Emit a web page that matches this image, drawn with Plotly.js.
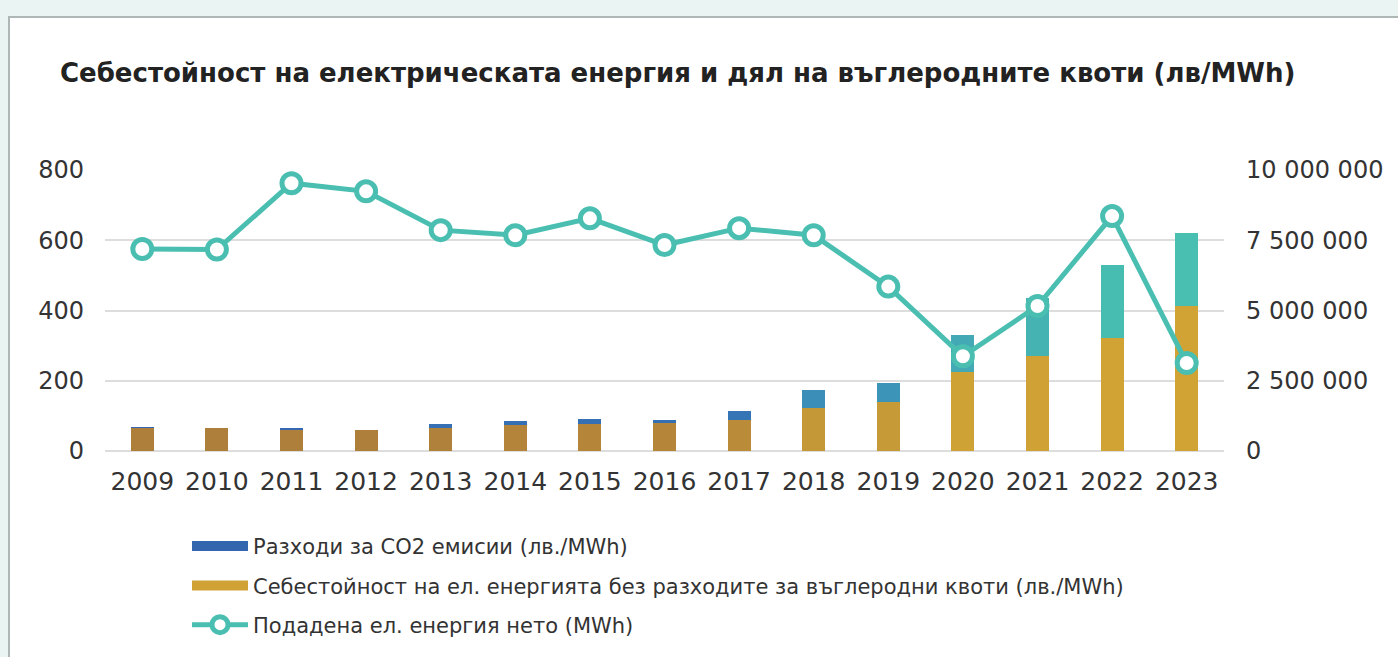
<!DOCTYPE html>
<html>
<head>
<meta charset="utf-8">
<script src="https://cdn.plot.ly/plotly-3.0.1.min.js"></script>
<style>
  html, body { margin: 0; padding: 0; background: #EAF4F3; width: 1398px; height: 657px; overflow: hidden; }
  #card { position: absolute; left: 8px; top: 16px; width: 1400px; height: 660px; background: #FFFFFF; border-left: 2px solid #AEB6B6; border-top: 2px solid #AEB6B6; }
  #chart { position: absolute; left: 0; top: 0; width: 1398px; height: 657px; }
</style>
</head>
<body>
<div id="card"></div>
<div id="chart"></div>
<script>
// ---- data ----
const years = ['2009','2010','2011','2012','2013','2014','2015','2016','2017','2018','2019','2020','2021','2022','2023'];
const costWithoutCO2 = [66, 65, 60, 60, 66, 73, 77, 79, 88, 123, 139, 224, 271, 323, 413];
const co2Costs = [3, 1, 5, 1, 12, 13, 14, 10, 26, 52, 54, 105, 165, 206, 208];
const netEnergy = [7190000, 7170000, 9530000, 9240000, 7860000, 7680000, 8280000, 7330000, 7930000, 7680000, 5850000, 3370000, 5160000, 8360000, 3130000];
const leftTicks = [0, 200, 400, 600, 800];
const rightTicks = [0, 2500000, 5000000, 7500000, 10000000];

const titleText = 'Себестойност на електрическата енергия и дял на въглеродните квоти (лв/MWh)';
const nameCO2 = 'Разходи за CO2 емисии (лв./MWh)';
const nameCost = 'Себестойност на ел. енергията без разходите за въглеродни квоти (лв./MWh)';
const nameEnergy = 'Подадена ел. енергия нето (MWh)';

// ---- styles ----
const costColors = ['#AE7F3A','#AE7F3A','#AE7F3A','#AE7F3A','#B0813A','#B3843A','#B5863A','#B5863A','#BA8B39','#C49737','#C69A37','#CFA235','#D0A235','#D1A335','#D1A335'];
const co2Colors = ['#3568B2','#3568B2','#3568B2','#3568B2','#3670B4','#3670B4','#3670B4','#3670B4','#3575B5','#3A8EB8','#3C94B8','#43A9B4','#45B3B2','#47BCB1','#48BFB1'];
const teal = '#4ABFB1';
const fontFam = '"DejaVu Sans", "Open Sans", sans-serif';

const traces = [
  {
    type: 'bar', x: years, y: costWithoutCO2, name: nameCost, showlegend: false,
    marker: { color: costColors, line: { width: 0 } }, yaxis: 'y', hoverinfo: 'y'
  },
  {
    type: 'bar', x: years, y: co2Costs, name: nameCO2, showlegend: false,
    marker: { color: co2Colors, line: { width: 0 } }, yaxis: 'y', hoverinfo: 'y'
  },
  {
    type: 'scatter', mode: 'lines+markers', x: years, y: netEnergy, name: nameEnergy,
    legendrank: 3, legendgroup: 'c',
    yaxis: 'y2', line: { color: teal, width: 5 },
    marker: { size: 19, color: '#FFFFFF', line: { color: teal, width: 5 } }
  },
  // legend-only entries drawn as wide swatches, like the reference legend
  {
    type: 'scatter', mode: 'lines', x: [null], y: [null], name: nameCO2,
    legendrank: 1, legendgroup: 'a', line: { color: '#3466B0', width: 12 }, hoverinfo: 'skip'
  },
  {
    type: 'scatter', mode: 'lines', x: [null], y: [null], name: nameCost,
    legendrank: 2, legendgroup: 'b', line: { color: '#D0A235', width: 12 }, hoverinfo: 'skip'
  }
];

const layout = {
  width: 1398, height: 657,
  paper_bgcolor: 'rgba(0,0,0,0)', plot_bgcolor: 'rgba(0,0,0,0)',
  margin: { l: 105, r: 174, t: 170, b: 202, pad: 0 },
  separators: ', ',
  barmode: 'stack', bargap: 0.69,
  font: { family: fontFam, color: '#333333', size: 20 },
  title: {
    text: titleText, xref: 'container', yref: 'container',
    x: 60 / 1398, xanchor: 'left', y: 1 - 73 / 657, yanchor: 'middle',
    font: { family: fontFam, size: 26, color: '#222222', weight: 700 }
  },
  xaxis: {
    type: 'category', range: [-0.5, 14.5], showgrid: false, zeroline: false, showline: false, ticks: '',
    tickfont: { size: 25, color: '#333333' }, ticklabelstandoff: 13, fixedrange: true
  },
  yaxis: {
    range: [0, 800], tickvals: leftTicks, showgrid: true, gridcolor: '#DDDDDD', gridwidth: 2,
    zeroline: true, zerolinecolor: '#DDDDDD', zerolinewidth: 2, showline: false, ticks: '',
    tickfont: { size: 24, color: '#333333' }, ticklabelstandoff: 20, fixedrange: true
  },
  yaxis2: {
    overlaying: 'y', side: 'right', range: [0, 10000000], tickvals: rightTicks,
    tickformat: ',d', showgrid: false, zeroline: false, showline: false, ticks: '',
    tickfont: { size: 24, color: '#333333' }, ticklabelstandoff: 21, fixedrange: true
  },
  showlegend: true,
  legend: {
    orientation: 'v', traceorder: 'grouped', tracegroupgap: 9,
    x: (187 - 105) / 1119, xanchor: 'left', y: -(531 - 455) / 285, yanchor: 'top',
    font: { size: 21, color: '#333333' }, bgcolor: 'rgba(0,0,0,0)', itemwidth: 56
  }
};

Plotly.newPlot('chart', traces, layout, { displayModeBar: false, staticPlot: true });
</script>
</body>
</html>
